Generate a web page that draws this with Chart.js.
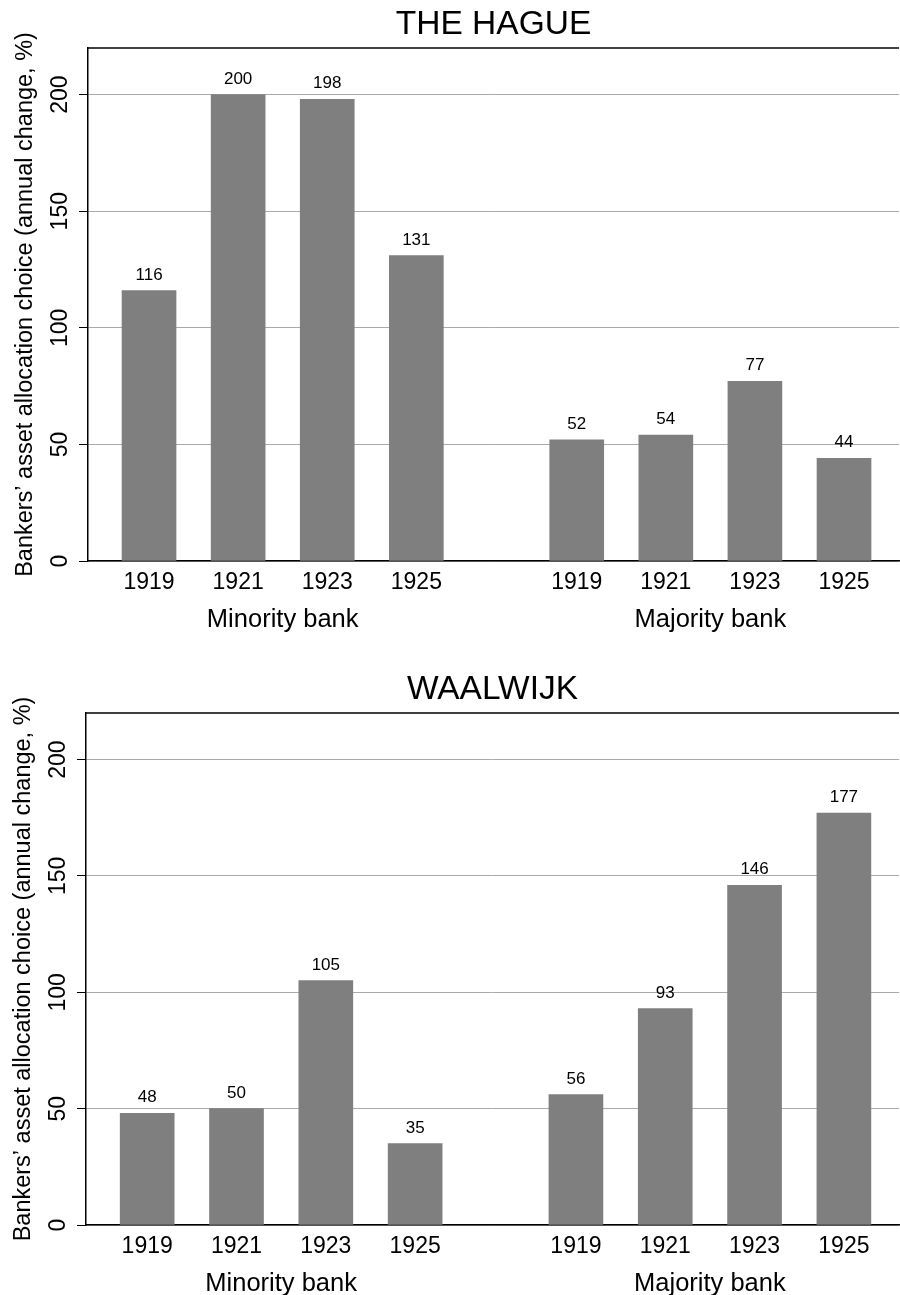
<!DOCTYPE html>
<html>
<head>
<meta charset="utf-8">
<script src="https://cdn.jsdelivr.net/npm/chart.js@4.4.1/dist/chart.umd.min.js"></script>
<style>
  html, body { margin: 0; padding: 0; background: #fff; }
  canvas { display: block; }
</style>
</head>
<body>
<canvas id="hague" width="900" height="664"></canvas>
<canvas id="waalwijk" width="900" height="631"></canvas>
<script>
// data
const years = ['1919', '1921', '1923', '1925'];
const groupLabels = ['Minority bank', 'Majority bank'];
const yTicks = [0, 50, 100, 150, 200];
const yTitle = 'Bankers\u2019 asset allocation choice (annual change, %)';

const hagueMinority = [116, 200, 198, 131];
const hagueMajority = [52, 54, 77, 44];
const waalwijkMinority = [48, 50, 105, 35];
const waalwijkMajority = [56, 93, 146, 177];

const FONT = '"Liberation Sans", Arial, Helvetica, sans-serif';
const GROUP_GAP = 0.8; // extra space between the two bank groups
Chart.defaults.font.family = FONT;
Chart.defaults.color = '#000';

// bar index -> position on the linear x scale
function xPos(i) {
  return i < years.length ? i : i + GROUP_GAP;
}

const annotate = {
  id: 'annotate',
  afterDraw(chart, args, opts) {
    const { ctx, chartArea: a, scales: { x, y } } = chart;
    ctx.save();
    ctx.strokeStyle = '#000';
    ctx.lineWidth = 1.5;
    ctx.beginPath();
    ctx.moveTo(a.left, a.top);
    ctx.lineTo(a.right, a.top);
    ctx.stroke();

    ctx.fillStyle = '#000';
    ctx.textAlign = 'center';
    ctx.textBaseline = 'alphabetic';

    ctx.font = '33.5px ' + FONT;
    ctx.fillText(opts.title, (a.left + a.right) / 2, a.top - 14);

    ctx.font = '25.5px ' + FONT;
    groupLabels.forEach((g, gi) => {
      const first = x.getPixelForValue(xPos(gi * years.length));
      const last = x.getPixelForValue(xPos(gi * years.length + years.length - 1));
      ctx.fillText(g, (first + last) / 2, a.bottom + 66);
    });

    ctx.font = '23px ' + FONT;
    y.ticks.forEach((t) => {
      ctx.save();
      ctx.translate(a.left - 21, y.getPixelForValue(t.value));
      ctx.rotate(-Math.PI / 2);
      ctx.fillText(String(t.value), 0, 0);
      ctx.restore();
    });

    ctx.font = '23.5px ' + FONT;
    ctx.save();
    ctx.translate(a.left - 56, (a.top + a.bottom) / 2);
    ctx.rotate(-Math.PI / 2);
    ctx.fillText(yTitle, 0, 0);
    ctx.restore();

    ctx.font = '17px ' + FONT;
    const values = chart.data.datasets[0].data;
    chart.getDatasetMeta(0).data.forEach((bar, i) => {
      ctx.fillText(String(values[i].y), bar.x, bar.y - 11);
    });
    ctx.restore();
  }
};

function makeChart(id, title, minority, majority, area) {
  const canvas = document.getElementById(id);
  const values = minority.concat(majority);
  const points = values.map((v, i) => ({ x: xPos(i), y: v }));

  return new Chart(canvas.getContext('2d'), {
    type: 'bar',
    data: {
      datasets: [{
        data: points,
        backgroundColor: '#7f7f7f',
        borderWidth: 0,
        barThickness: 54,
      }],
    },
    options: {
      responsive: false,
      animation: false,
      layout: { padding: { top: area.top, right: 1, left: 0, bottom: 0 } },
      plugins: {
        legend: { display: false },
        tooltip: { enabled: false },
        annotate: { title: title },
      },
      scales: {
        x: {
          type: 'linear',
          offset: false,
          min: -0.685,
          max: 8.417,
          grid: { display: false, offset: false },
          border: { display: true, color: '#000', width: 1.5 },
          afterBuildTicks: (scale) => {
            scale.ticks = values.map((v, i) => ({ value: xPos(i) }));
          },
          afterFit: (scale) => { scale.height = canvas.height - area.bottom; },
          ticks: {
            padding: 0,
            font: { size: 23 },
            color: '#000',
            callback: (value, index) => years[index % years.length],
          },
        },
        y: {
          min: 0,
          max: 220,
          afterBuildTicks: (scale) => {
            scale.ticks = yTicks.map((v) => ({ value: v }));
          },
          afterFit: (scale) => { scale.width = area.left; },
          grid: {
            color: '#aaaaaa',
            lineWidth: 1,
            drawTicks: true,
            tickLength: 9,
            tickColor: '#000',
          },
          border: { display: true, color: '#000', width: 1.5 },
          ticks: { display: false },
        },
      },
    },
    plugins: [annotate],
  });
}

makeChart('hague', 'THE HAGUE', hagueMinority, hagueMajority, { top: 48, bottom: 561, left: 88 });
makeChart('waalwijk', 'WAALWIJK', waalwijkMinority, waalwijkMajority, { top: 49, bottom: 561, left: 86 });
</script>
</body>
</html>
